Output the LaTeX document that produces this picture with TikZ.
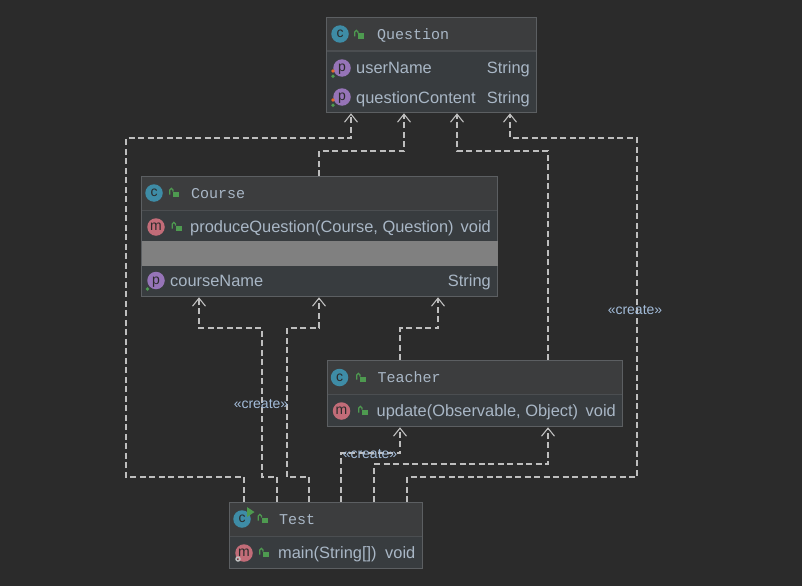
\documentclass[tikz,border=0pt]{standalone}
\usepackage{fontspec}
\setmainfont{Liberation Sans}
\newfontfamily\titlefont{Liberation Mono}
\usetikzlibrary{positioning,calc,arrows.meta}
\definecolor{canvas}{HTML}{2B2B2B}
\definecolor{umlhead}{HTML}{3C3D3E}
\definecolor{umlbody}{HTML}{383C3F}
\definecolor{umlborder}{HTML}{5C5F62}
\definecolor{umlsep}{HTML}{4B4E51}
\definecolor{umlband}{HTML}{808080}
\definecolor{umltext}{HTML}{A9B7C6}
\definecolor{deptext}{HTML}{A3BCD9}
\definecolor{deplines}{HTML}{BEBEBE}
\definecolor{iconc}{HTML}{3E8CA6}
\definecolor{iconp}{HTML}{9674B8}
\definecolor{iconm}{HTML}{C26C78}
\definecolor{lockgreen}{HTML}{4E9A50}
\definecolor{dotred}{HTML}{E5682A}
\tikzset{classbox/.style={draw=umlborder,fill=umlbody,line width=1.3pt,inner sep=0pt,anchor=north west,
           path picture={\fill[umlhead] (path picture bounding box.north west) rectangle ([yshift=-33.5pt]path picture bounding box.north east);
                         \draw[umlsep,line width=1.3pt] ([yshift=-33.5pt]path picture bounding box.north west) -- ([yshift=-33.5pt]path picture bounding box.north east);}},
         title/.style={font=\titlefont\fontsize{15}{18}\selectfont,text=umltext,inner sep=0pt,anchor=base west},
         member/.style={font=\fontsize{16.4}{19}\selectfont,text=umltext,inner sep=0pt,anchor=base west},
         rtype/.style={member,anchor=base east},
         icon/.style={circle,inner sep=0pt,minimum size=17.5pt,text=canvas,font=\fontsize{14}{14}\selectfont,text height=7pt,text depth=0pt},
         stereo/.style={font=\fontsize{14}{16}\selectfont,text=deptext,inner sep=0pt},
         dep/.style={draw=deplines,line width=1.1pt,dash pattern=on 6pt off 3.5pt,-{Straight Barb[length=8pt,width=13pt]}},
         lock/.pic={\fill[lockgreen] (-3,-2.5) rectangle (3.2,3.2);
                    \draw[lockgreen,line width=1.3pt] (-6.2,0.5) -- (-6.2,-4) arc[start angle=180,end angle=360,radius=1.6] -- (-3,-2.5);},
         privdot/.pic={\fill[dotred] (0,0) circle (1.9); \fill[lockgreen] (0,5.3) circle (1.9);}
}
\begin{document}
\begin{tikzpicture}[x=1pt,y=-1pt]
\fill[canvas,use as bounding box] (0,0) rectangle (802,586);

%Class: Question
\node[classbox,minimum width=210pt,minimum height=95pt] (question) at (326,17) {};
\node[icon,fill=iconc] (qicon) at (340,34) {c};
\pic at (361,36) {lock};
\node[title] (qtitle) at (377,39.5) {Question};
\node[icon,fill=iconp] (qp1) at (342,68) {p};
\pic at (333,71) {privdot};
\node[member] (qf1) at (356,74) {userName};
\node[rtype] (qt1) at (530,74) {String};
\node[icon,fill=iconp] (qp2) at (342,97) {p};
\pic at (333,100) {privdot};
\node[member] (qf2) at (356,103) {questionContent};
\node[rtype] (qt2) at (530,103) {String};

%Class: Course
\node[classbox,minimum width=356pt,minimum height=120pt] (course) at (141,176) {};
\fill[umlband] ([shift={(0.65pt,-65pt)}]course.north west) rectangle ([shift={(-0.65pt,-90pt)}]course.north east);
\node[icon,fill=iconc] (cicon) at (154,193) {c};
\pic at (176,194) {lock};
\node[title] (ctitle) at (191,198.5) {Course};
\node[icon,fill=iconm] (cm1) at (156,227) {m};
\pic at (178.5,228) {lock};
\node[member] (cf1) at (190,232) {produceQuestion(Course, Question)};
\node[rtype] (ct1) at (491,232) {void};
\node[icon,fill=iconp] (cp1) at (156,280.5) {p};
\fill[lockgreen] (147.5,289) circle (1.9);
\node[member] (cf2) at (170,286) {courseName};
\node[rtype] (ct2) at (491,286) {String};

%Class: Teacher
\node[classbox,minimum width=295pt,minimum height=66pt] (teacher) at (327,360) {};
\node[icon,fill=iconc] (ticon) at (339.5,377.5) {c};
\pic at (363,379) {lock};
\node[title] (ttitle) at (377.5,382.5) {Teacher};
\node[icon,fill=iconm] (tm1) at (341.5,411) {m};
\pic at (365,412) {lock};
\node[member] (tf1) at (376.5,416) {update(Observable, Object)};
\node[rtype] (tt1) at (616,416) {void};

%Class: Test
\node[classbox,minimum width=193pt,minimum height=66pt] (test) at (229,502) {};
\node[icon,fill=iconc] (xicon) at (242,519) {c};
\fill[lockgreen] (247,507) -- (254.5,512) -- (247,517) -- cycle;
\pic at (264.5,520) {lock};
\node[title] (xtitle) at (279,524) {Test};
\node[icon,fill=iconm] (xm1) at (244,553) {m};
\draw[black!25,line width=1.4pt] (238,559) circle (2);
\pic at (266,554) {lock};
\node[member] (xf1) at (278,558) {main(String[])};
\node[rtype] (xt1) at (415.5,558) {void};

%Lanes
\coordinate (outerL) at (126,138);
\coordinate (outerR) at (637,138);
\coordinate (midL) at (262,328);
\coordinate (midC) at (287,328);

%Dependencies to Question
\draw[dep] ([xshift=15pt]test.north west) -- ++(0,-25) -| (outerL) -| ([xshift=25pt]question.south west);
\draw[dep] ([xshift=178pt]course.north west) -- ++(0,-25) -| ([xshift=78pt]question.south west);
\draw[dep] ([xshift=221pt]teacher.north west) -- ++(0,-209) -| ([xshift=131pt]question.south west);
\draw[dep] ([xshift=178pt]test.north west) -- ++(0,-25) -| (outerR) -| ([xshift=184pt]question.south west);

%Dependencies to Course
\draw[dep] ([xshift=48pt]test.north west) -- ++(0,-25) -| (midL) -| ([xshift=58pt]course.south west);
\draw[dep] ([xshift=80pt]test.north west) -- ++(0,-25) -| (midC) -| ([xshift=178pt]course.south west);
\draw[dep] ([xshift=73pt]teacher.north west) -- ++(0,-32) -| ([xshift=297pt]course.south west);

%Dependencies to Teacher
\draw[dep] ([xshift=112pt]test.north west) -- ++(0,-49) -| ([xshift=73pt]teacher.south west);
\draw[dep] ([xshift=145pt]test.north west) -- ++(0,-38) -| ([xshift=221pt]teacher.south west);

% Text Node
\node[stereo] (create1) at (635,310) {«create»};
% Text Node
\node[stereo] (create2) at (261,404.5) {«create»};
% Text Node
\node[stereo] (create3) at (370,454.5) {«create»};

\end{tikzpicture}
\end{document}
